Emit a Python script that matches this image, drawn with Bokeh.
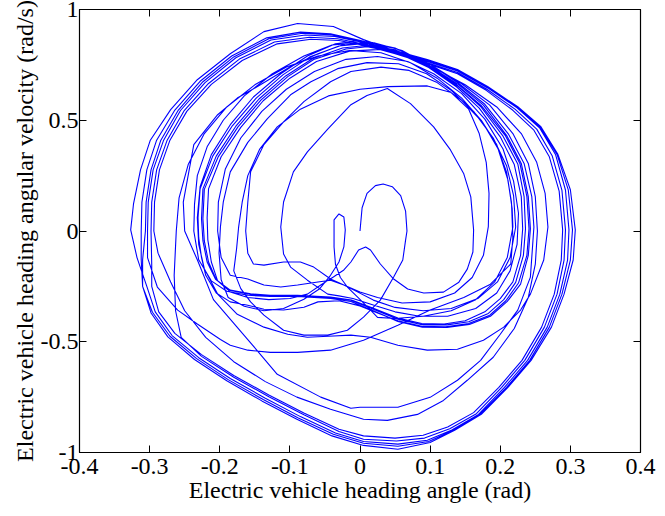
from bokeh.plotting import figure
from bokeh.models import Range1d, FixedTicker, LinearAxis
from bokeh.embed import file_html
from bokeh.resources import INLINE

# Phase trajectory (heading angle [rad], angular velocity [rad/s]) as point lists,
# one list per revolution, in the order the trajectory is traced.
start_lobe = [
    (0.000, 0.000), (0.003, 0.105), (0.010, 0.170), (0.022, 0.205), (0.033, 0.212),
    (0.046, 0.200), (0.058, 0.160), (0.065, 0.090), (0.067, 0.000), (0.065, -0.041),
    (0.061, -0.131), (0.048, -0.208), (0.029, -0.312), (0.005, -0.389), (-0.018, -0.448),
    (-0.046, -0.470), (-0.080, -0.470), (-0.109, -0.448), (-0.137, -0.380), (-0.156, -0.320),
    (-0.170, -0.260),
]
loop_01 = [
    (-0.180, -0.180), (-0.176, -0.080), (-0.173, 0.020), (-0.168, 0.130), (-0.160, 0.250),
    (-0.143, 0.370), (-0.118, 0.470), (-0.085, 0.550), (-0.045, 0.610), (0.000, 0.640),
    (0.040, 0.652), (0.096, 0.655), (0.130, 0.625), (0.155, 0.550), (0.170, 0.440),
    (0.180, 0.310), (0.184, 0.170), (0.183, 0.020), (0.176, -0.110), (0.160, -0.210),
    (0.135, -0.280), (0.100, -0.320), (0.060, -0.325), (0.025, -0.300), (0.000, -0.275),
    (-0.023, -0.244), (-0.042, -0.217), (-0.066, -0.163), (-0.085, -0.140), (-0.109, -0.140),
    (-0.137, -0.154), (-0.152, -0.149),
]
loop_02 = [
    (-0.160, -0.100), (-0.163, 0.000), (-0.160, 0.130), (-0.156, 0.267), (-0.137, 0.390),
    (-0.109, 0.493), (-0.080, 0.584), (-0.042, 0.674), (-0.013, 0.720), (0.030, 0.740),
    (0.070, 0.725), (0.110, 0.670), (0.145, 0.590), (0.175, 0.490), (0.197, 0.370),
    (0.211, 0.230), (0.217, 0.100), (0.218, 0.018), (0.210, -0.120), (0.192, -0.230),
    (0.165, -0.310), (0.130, -0.360), (0.090, -0.385), (0.050, -0.395), (0.025, -0.390),
]
small_loop = [
    (0.011, -0.344), (-0.003, -0.300), (-0.018, -0.253), (-0.028, -0.210), (-0.035, -0.150),
    (-0.037, -0.072), (-0.037, 0.050), (-0.030, 0.077), (-0.023, 0.063), (-0.021, 0.005),
    (-0.023, -0.072), (-0.030, -0.140), (-0.042, -0.200), (-0.058, -0.262), (-0.080, -0.308),
    (-0.109, -0.350), (-0.137, -0.360), (-0.165, -0.340), (-0.188, -0.300),
]
loop_03 = [
    (-0.198, -0.220), (-0.201, -0.100), (-0.199, 0.020), (-0.195, 0.130), (-0.185, 0.267),
    (-0.160, 0.400), (-0.132, 0.507), (-0.099, 0.615), (-0.070, 0.674), (-0.032, 0.733),
    (0.010, 0.760), (0.055, 0.755), (0.095, 0.710), (0.130, 0.635), (0.162, 0.540),
    (0.190, 0.420), (0.209, 0.295), (0.219, 0.160), (0.222, 0.018), (0.214, -0.120),
    (0.196, -0.230), (0.168, -0.305), (0.130, -0.350), (0.090, -0.360), (0.050, -0.345),
    (0.019, -0.312), (-0.003, -0.276), (-0.023, -0.244), (-0.042, -0.222), (-0.060, -0.230),
    (-0.089, -0.244), (-0.113, -0.253), (-0.137, -0.244), (-0.160, -0.217), (-0.185, -0.200),
]
loop_04 = [
    (-0.198, -0.120), (-0.203, 0.000), (-0.202, 0.130), (-0.192, 0.280), (-0.170, 0.420),
    (-0.140, 0.540), (-0.105, 0.640), (-0.065, 0.720), (-0.020, 0.775), (0.025, 0.788),
    (0.068, 0.765), (0.105, 0.710), (0.145, 0.620), (0.178, 0.505), (0.204, 0.370),
    (0.219, 0.225), (0.226, 0.080), (0.224, -0.060), (0.214, -0.180), (0.195, -0.280),
    (0.165, -0.350), (0.125, -0.385), (0.085, -0.385), (0.050, -0.365), (0.020, -0.335),
    (-0.010, -0.305), (-0.030, -0.293), (-0.046, -0.285),
]
heart_loop = [
    (-0.075, -0.222), (-0.099, -0.163), (-0.109, -0.104), (-0.113, 0.018), (-0.109, 0.131),
    (-0.095, 0.267), (-0.075, 0.357), (-0.046, 0.460), (-0.013, 0.570), (0.010, 0.612),
    (0.039, 0.643), (0.072, 0.575), (0.105, 0.470), (0.129, 0.366), (0.148, 0.258),
    (0.158, 0.154), (0.162, 0.005), (0.161, -0.095), (0.153, -0.172), (0.141, -0.231),
    (0.119, -0.276), (0.091, -0.280), (0.068, -0.262), (0.048, -0.217), (0.029, -0.149),
    (0.015, -0.086), (0.008, -0.072), (-0.002, -0.086), (-0.013, -0.140), (-0.023, -0.176),
    (-0.038, -0.208), (-0.056, -0.244), (-0.075, -0.285), (-0.100, -0.305), (-0.130, -0.310),
    (-0.160, -0.300), (-0.185, -0.275), (-0.203, -0.225),
]
loop_05 = [
    (-0.212, -0.140), (-0.217, -0.040), (-0.218, 0.060), (-0.216, 0.190), (-0.198, 0.335),
    (-0.170, 0.468), (-0.138, 0.588), (-0.100, 0.690), (-0.062, 0.765), (-0.015, 0.812),
    (0.030, 0.820), (0.060, 0.795), (0.098, 0.738), (0.138, 0.650), (0.170, 0.555),
    (0.200, 0.425), (0.220, 0.300), (0.230, 0.155), (0.232, 0.010), (0.229, -0.110),
    (0.218, -0.230), (0.200, -0.305), (0.178, -0.365), (0.150, -0.405), (0.120, -0.420),
    (0.088, -0.418), (0.054, -0.393), (0.020, -0.350), (-0.012, -0.312), (-0.042, -0.298),
    (-0.089, -0.290), (-0.128, -0.290), (-0.156, -0.284), (-0.185, -0.267), (-0.205, -0.220),
]
loop_06 = [
    (-0.216, -0.140), (-0.222, -0.045), (-0.224, 0.055), (-0.222, 0.188), (-0.202, 0.336),
    (-0.174, 0.470), (-0.141, 0.592), (-0.103, 0.697), (-0.066, 0.774), (-0.020, 0.822),
    (0.010, 0.832), (0.054, 0.805), (0.096, 0.745), (0.139, 0.655), (0.172, 0.562),
    (0.204, 0.428), (0.225, 0.303), (0.234, 0.155), (0.236, 0.010), (0.233, -0.110),
    (0.222, -0.232), (0.205, -0.310), (0.183, -0.372), (0.155, -0.410), (0.124, -0.424),
    (0.090, -0.424), (0.054, -0.398), (0.019, -0.353), (-0.013, -0.313), (-0.042, -0.300),
    (-0.089, -0.291), (-0.128, -0.291), (-0.156, -0.286), (-0.185, -0.268), (-0.206, -0.218),
]
loop_07 = [
    (-0.218, -0.140), (-0.224, -0.045), (-0.226, 0.055), (-0.224, 0.190), (-0.205, 0.338),
    (-0.177, 0.473), (-0.144, 0.596), (-0.106, 0.700), (-0.068, 0.778), (-0.025, 0.826),
    (0.005, 0.836), (0.050, 0.812), (0.094, 0.750), (0.138, 0.660), (0.173, 0.566),
    (0.207, 0.432), (0.228, 0.305), (0.238, 0.155), (0.241, 0.010), (0.238, -0.110),
    (0.226, -0.235), (0.208, -0.315), (0.185, -0.380), (0.155, -0.418), (0.122, -0.432),
    (0.088, -0.430), (0.054, -0.405), (0.025, -0.370), (0.000, -0.338), (-0.030, -0.315),
    (-0.060, -0.320), (-0.080, -0.344), (-0.109, -0.357), (-0.137, -0.353), (-0.160, -0.335),
    (-0.185, -0.320), (-0.205, -0.280), (-0.220, -0.200),
]
loop_08 = [
    (-0.226, -0.120), (-0.230, -0.030), (-0.231, 0.060), (-0.228, 0.190), (-0.210, 0.338),
    (-0.182, 0.475), (-0.148, 0.600), (-0.110, 0.705), (-0.072, 0.785), (-0.030, 0.835),
    (0.000, 0.845), (0.050, 0.818), (0.096, 0.752), (0.140, 0.662), (0.176, 0.568),
    (0.209, 0.432), (0.230, 0.305), (0.240, 0.155), (0.243, 0.010), (0.240, -0.110),
    (0.229, -0.240), (0.210, -0.318), (0.186, -0.385), (0.156, -0.422), (0.124, -0.436),
    (0.089, -0.434), (0.054, -0.408), (0.019, -0.360), (-0.013, -0.318), (-0.042, -0.304),
    (-0.089, -0.296), (-0.128, -0.296), (-0.160, -0.290), (-0.190, -0.272), (-0.212, -0.225),
]
loop_09 = [
    (-0.230, -0.130), (-0.237, 0.000), (-0.236, 0.120), (-0.232, 0.250), (-0.218, 0.380),
    (-0.195, 0.500), (-0.165, 0.610), (-0.125, 0.710), (-0.080, 0.790), (-0.040, 0.840),
    (0.000, 0.850), (0.050, 0.825), (0.096, 0.760), (0.140, 0.668), (0.178, 0.572),
    (0.212, 0.436), (0.234, 0.305), (0.245, 0.155), (0.248, 0.018), (0.243, -0.208),
    (0.225, -0.357), (0.200, -0.466), (0.172, -0.584), (0.139, -0.674), (0.100, -0.751),
    (0.054, -0.796), (0.000, -0.796), (-0.013, -0.800), (-0.056, -0.750), (-0.118, -0.647),
    (-0.160, -0.490), (-0.209, -0.310), (-0.232, -0.130),
]
loop_10 = [
    (-0.250, 0.000), (-0.252, 0.130), (-0.237, 0.390), (-0.203, 0.525), (-0.175, 0.600),
    (-0.142, 0.660), (-0.100, 0.740), (-0.060, 0.800), (-0.020, 0.845), (0.020, 0.850),
    (0.060, 0.815), (0.100, 0.745), (0.150, 0.660), (0.195, 0.560), (0.230, 0.440),
    (0.252, 0.310), (0.264, 0.170), (0.268, 0.018), (0.262, -0.131), (0.243, -0.285),
    (0.229, -0.357), (0.205, -0.434), (0.176, -0.493), (0.139, -0.534), (0.096, -0.538),
    (0.054, -0.516), (0.015, -0.480), (-0.013, -0.470), (-0.045, -0.475), (-0.075, -0.480),
    (-0.103, -0.466), (-0.137, -0.434), (-0.175, -0.376), (-0.203, -0.285), (-0.222, -0.170),
]
loop_11 = [
    (-0.230, -0.060), (-0.232, 0.060), (-0.228, 0.200), (-0.212, 0.345), (-0.185, 0.480),
    (-0.152, 0.605), (-0.113, 0.710), (-0.075, 0.790), (-0.035, 0.845), (0.000, 0.860),
    (0.050, 0.826), (0.100, 0.752), (0.145, 0.665), (0.185, 0.568), (0.218, 0.440),
    (0.240, 0.305), (0.250, 0.155), (0.253, 0.000), (0.250, -0.150), (0.240, -0.300),
    (0.220, -0.440), (0.190, -0.570), (0.153, -0.674), (0.119, -0.765), (0.082, -0.828),
    (0.039, -0.855), (0.005, -0.850), (-0.042, -0.805), (-0.090, -0.750), (-0.135, -0.680),
    (-0.180, -0.590), (-0.220, -0.480), (-0.250, -0.360), (-0.270, -0.230),
]
loop_12 = [
    (-0.288, -0.100), (-0.294, 0.000), (-0.293, 0.130), (-0.286, 0.276), (-0.271, 0.410),
    (-0.247, 0.540), (-0.212, 0.662), (-0.168, 0.770), (-0.118, 0.845), (-0.070, 0.866),
    (-0.030, 0.860), (0.010, 0.835), (0.050, 0.800), (0.096, 0.755), (0.139, 0.710),
    (0.180, 0.635), (0.218, 0.545), (0.248, 0.455), (0.270, 0.335), (0.284, 0.180),
    (0.289, 0.005), (0.287, -0.131), (0.277, -0.285), (0.259, -0.434), (0.231, -0.584),
    (0.198, -0.706), (0.162, -0.820), (0.125, -0.885), (0.090, -0.922), (0.050, -0.935),
    (0.005, -0.925), (-0.030, -0.895), (-0.080, -0.822), (-0.130, -0.740), (-0.180, -0.652),
    (-0.226, -0.558), (-0.264, -0.462), (-0.287, -0.365), (-0.297, -0.250),
]
loop_13 = [
    (-0.297, -0.150), (-0.298, 0.000), (-0.297, 0.130), (-0.290, 0.276), (-0.275, 0.410),
    (-0.251, 0.542), (-0.216, 0.666), (-0.172, 0.776), (-0.122, 0.853), (-0.072, 0.875),
    (-0.032, 0.868), (0.008, 0.842), (0.048, 0.806), (0.096, 0.760), (0.139, 0.716),
    (0.181, 0.640), (0.221, 0.550), (0.252, 0.460), (0.274, 0.340), (0.288, 0.183),
    (0.293, 0.005), (0.291, -0.131), (0.281, -0.285), (0.263, -0.434), (0.235, -0.584),
    (0.202, -0.706), (0.166, -0.825), (0.128, -0.893), (0.092, -0.935), (0.052, -0.948),
    (0.005, -0.940), (-0.030, -0.905), (-0.080, -0.830), (-0.130, -0.748), (-0.180, -0.660),
    (-0.226, -0.566), (-0.255, -0.480), (-0.263, -0.360), (-0.265, -0.200),
]
loop_14 = [
    (-0.262, 0.000), (-0.258, 0.150), (-0.245, 0.300), (-0.222, 0.440), (-0.190, 0.560),
    (-0.150, 0.660), (-0.105, 0.740), (-0.060, 0.790), (-0.015, 0.815), (0.030, 0.805),
    (0.072, 0.760), (0.110, 0.690), (0.145, 0.600), (0.173, 0.500), (0.195, 0.390),
    (0.209, 0.265), (0.216, 0.130), (0.218, -0.030), (0.215, -0.149), (0.186, -0.240),
    (0.148, -0.300), (0.100, -0.357), (0.054, -0.425), (0.005, -0.493), (-0.042, -0.538),
    (-0.089, -0.548), (-0.128, -0.548), (-0.160, -0.538), (-0.185, -0.516), (-0.199, -0.490),
    (-0.232, -0.420), (-0.260, -0.357), (-0.289, -0.253), (-0.303, -0.120),
]
loop_15 = [
    (-0.303, 0.000), (-0.302, 0.130), (-0.295, 0.276), (-0.280, 0.410), (-0.256, 0.544),
    (-0.221, 0.670), (-0.177, 0.782), (-0.127, 0.862), (-0.078, 0.885), (-0.036, 0.878),
    (0.006, 0.850), (0.046, 0.812), (0.096, 0.765), (0.139, 0.722), (0.182, 0.646),
    (0.224, 0.556), (0.256, 0.466), (0.279, 0.344), (0.293, 0.185), (0.298, 0.005),
    (0.296, -0.131), (0.285, -0.285), (0.267, -0.434), (0.239, -0.584), (0.206, -0.706),
    (0.169, -0.828), (0.131, -0.898), (0.096, -0.945), (0.054, -0.962), (0.005, -0.950),
    (-0.035, -0.912), (-0.085, -0.838), (-0.135, -0.755), (-0.185, -0.666), (-0.230, -0.572),
    (-0.268, -0.472), (-0.292, -0.365), (-0.304, -0.250), (-0.318, -0.120),
]
loop_16 = [
    (-0.327, 0.005), (-0.323, 0.122), (-0.313, 0.276), (-0.299, 0.410), (-0.270, 0.548),
    (-0.232, 0.683), (-0.185, 0.800), (-0.137, 0.900), (-0.089, 0.937), (-0.038, 0.923),
    (0.005, 0.864), (0.044, 0.819), (0.096, 0.774), (0.139, 0.729), (0.182, 0.652),
    (0.225, 0.561), (0.258, 0.471), (0.282, 0.348), (0.300, 0.186), (0.307, 0.005),
    (0.304, -0.131), (0.291, -0.285), (0.273, -0.434), (0.244, -0.584), (0.211, -0.706),
    (0.173, -0.828), (0.135, -0.900), (0.100, -0.955), (0.054, -0.985), (0.005, -0.968),
    (-0.040, -0.925), (-0.090, -0.850), (-0.140, -0.767), (-0.190, -0.676), (-0.236, -0.580),
    (-0.274, -0.478), (-0.298, -0.370), (-0.310, -0.250), (-0.310, -0.130),
]
loop_17 = [
    (-0.306, 0.000), (-0.305, 0.130), (-0.298, 0.276), (-0.284, 0.410), (-0.259, 0.546),
    (-0.224, 0.674), (-0.180, 0.786), (-0.130, 0.868), (-0.082, 0.893), (-0.040, 0.885),
    (0.004, 0.855), (0.046, 0.815), (0.096, 0.770), (0.139, 0.725), (0.182, 0.649),
    (0.225, 0.558), (0.257, 0.468), (0.281, 0.346), (0.297, 0.186), (0.303, 0.005),
    (0.300, -0.131), (0.288, -0.285), (0.270, -0.434), (0.242, -0.584), (0.209, -0.706),
    (0.171, -0.828), (0.133, -0.900), (0.098, -0.950), (0.054, -0.972), (0.005, -0.958),
    (-0.038, -0.918), (-0.088, -0.844), (-0.138, -0.761), (-0.188, -0.671), (-0.233, -0.576),
    (-0.271, -0.475), (-0.296, -0.367), (-0.310, -0.250), (-0.312, -0.130),
]
final_arc = [
    (-0.312, 0.000), (-0.311, 0.130), (-0.304, 0.276), (-0.290, 0.410), (-0.264, 0.546),
    (-0.228, 0.676), (-0.183, 0.790), (-0.133, 0.872), (-0.085, 0.898), (-0.042, 0.890),
    (0.004, 0.858), (0.045, 0.815), (0.096, 0.772),
]

segments = [start_lobe, loop_01, loop_02, small_loop, loop_03, loop_04, heart_loop,
            loop_05, loop_06, loop_07, loop_08, loop_09, loop_10, loop_11, loop_12,
            loop_13, loop_14, loop_15, loop_16, loop_17, final_arc]

x_ticks = [-0.4, -0.3, -0.2, -0.1, 0, 0.1, 0.2, 0.3, 0.4]
x_tick_labels = ["-0.4", "-0.3", "-0.2", "-0.1", "0", "0.1", "0.2", "0.3", "0.4"]
y_ticks = [-1, -0.5, 0, 0.5, 1]
y_tick_labels = ["-1", "-0.5", "0", "0.5", "1"]

heading = [pt[0] for seg in segments for pt in seg]
rate = [pt[1] for seg in segments for pt in seg]

FONT = "Liberation Serif"

p = figure(width=665, height=516, output_backend="svg", toolbar_location=None,
           x_range=Range1d(-0.4, 0.4), y_range=Range1d(-1, 1),
           min_border_left=79, min_border_right=25, min_border_top=9, min_border_bottom=64,
           x_axis_label="Electric vehicle heading angle (rad)",
           y_axis_label="Electric vehicle heading angular velocity (rad/s)")
p.xgrid.visible = False
p.ygrid.visible = False
p.outline_line_color = "black"
p.outline_line_width = 1.2
p.background_fill_color = "white"
p.border_fill_color = "white"

p.line(heading, rate, line_color="#0000ff", line_width=1.1)


def style_axis(ax, ticks, labels, show_labels, standoff):
    ax.ticker = FixedTicker(ticks=ticks)
    ax.major_tick_in = 7
    ax.major_tick_out = 0
    ax.minor_tick_line_color = None
    ax.axis_line_color = "black"
    ax.major_tick_line_color = "black"
    ax.major_label_standoff = standoff
    if show_labels:
        ax.major_label_overrides = {t: s for t, s in zip(ticks, labels)}
        ax.major_label_text_font = FONT
        ax.major_label_text_color = "black"
        ax.major_label_text_font_size = "24px"
        ax.axis_label_text_font = FONT
        ax.axis_label_text_font_size = "24px"
        ax.axis_label_text_font_style = "normal"
        ax.axis_label_text_color = "black"
        ax.axis_label_standoff = 0
    else:
        # mirrored frame ticks only
        ax.major_label_text_color = None
        ax.major_label_text_font_size = "1px"


style_axis(p.xaxis[0], x_ticks, x_tick_labels, True, 6)
style_axis(p.yaxis[0], y_ticks, y_tick_labels, True, 1)

top_axis = LinearAxis()
style_axis(top_axis, x_ticks, x_tick_labels, False, 0)
p.add_layout(top_axis, "above")
right_axis = LinearAxis()
style_axis(right_axis, y_ticks, y_tick_labels, False, 0)
p.add_layout(right_axis, "right")

open("out.html", "w").write(file_html(p, INLINE))
